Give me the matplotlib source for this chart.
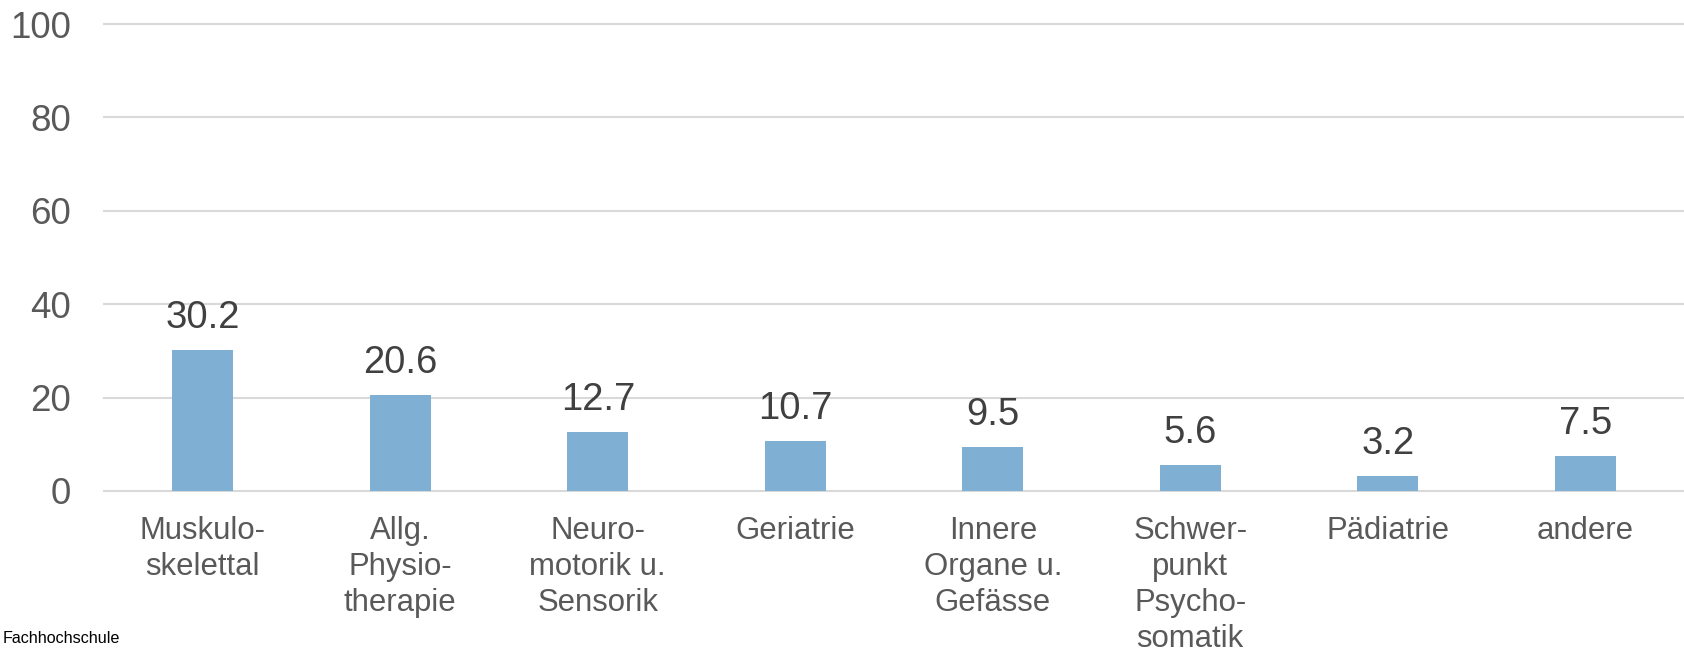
import matplotlib.pyplot as plt

plt.rcParams['font.family'] = ['Liberation Sans', 'DejaVu Sans']

categories = ['Muskulo-\nskelettal', 'Allg.\nPhysio-\ntherapie', 'Neuro-\nmotorik u.\nSensorik',
              'Geriatrie', 'Innere\nOrgane u.\nGefässe', 'Schwer-\npunkt\nPsycho-\nsomatik',
              'Pädiatrie', 'andere']
values = [30.2, 20.6, 12.7, 10.7, 9.5, 5.6, 3.2, 7.5]
yticks = [0, 20, 40, 60, 80, 100]

fig = plt.figure(figsize=(16.84, 6.52), dpi=100)
ax = fig.add_axes([104 / 1684, 1 - 491 / 652, 1 - 104 / 1684, (491 - 24) / 652])

x = range(len(values))
bars = ax.bar(x, values, width=0.31, color='#7FB0D3', zorder=3)

for xi, v in zip(x, values):
    ax.annotate(f'{v:.1f}', (xi, v), xytext=(0, 10), textcoords='offset points',
                ha='center', va='bottom', fontsize=27.5, color='#404040')

ax.set_xlim(-0.5, len(values) - 0.5)
ax.set_ylim(0, 100)
ax.set_yticks(yticks)
ax.set_xticks(list(x))
ax.set_xticklabels(categories, fontsize=22.4, color='#595959', va='top', linespacing=1.26)
ax.tick_params(axis='y', length=0, pad=24, labelsize=26.5, labelcolor='#595959')
ax.tick_params(axis='x', length=0, pad=18)

for y in yticks:
    ax.axhline(y, color='#D9D9D9', lw=1.5, zorder=1, clip_on=False)
for s in ax.spines.values():
    s.set_visible(False)

fig.text(3 / 1684, 9 / 652, 'Fachhochschule', fontsize=11.6, color='black', ha='left', va='baseline')

fig.savefig('out.png', dpi=100)
